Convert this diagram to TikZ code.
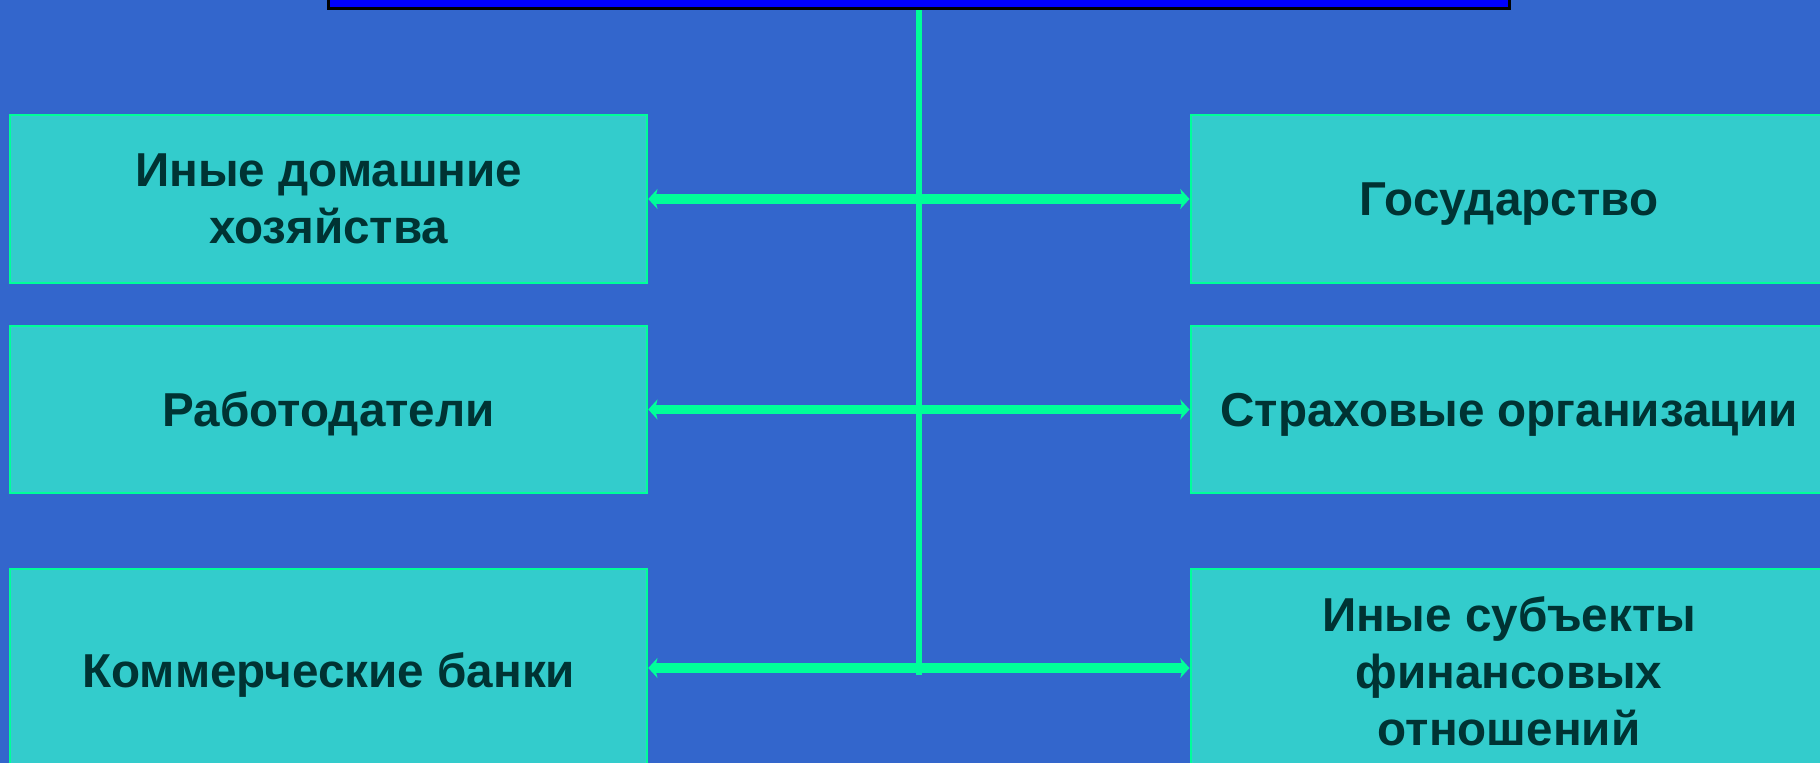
\documentclass[tikz,border=0pt]{standalone}
\usepackage{fontspec}
\setmainfont{Liberation Sans}
\usetikzlibrary{arrows.meta}
\definecolor{bg}{HTML}{3366CC}
\definecolor{boxfill}{HTML}{33CCCC}
\definecolor{lime}{HTML}{00FF99}
\definecolor{ink}{HTML}{003333}
\definecolor{headblue}{HTML}{0000FF}

\begin{document}
\begin{tikzpicture}[x=0.5pt,y=-0.5pt,
  actor/.style={draw=lime, line width=1pt, fill=boxfill, minimum width=318.5pt,
    inner sep=0pt, align=center, text=ink,
    font=\bfseries\fontsize{23.8pt}{28.5pt}\selectfont},
  oneline/.style={text height=17pt, text depth=0pt},
  topbox/.style={draw=black, line width=1.5pt, fill=headblue,
    minimum width=590.5pt, minimum height=40pt, inner sep=0pt},
  stem/.style={draw=lime, line width=3pt},
  tipshape/.tip={Stealth[length=4.6pt,width=10pt,inset=1.2pt]},
  link/.style={draw=lime, line width=4.7pt, tipshape-tipshape}]

% canvas
\fill[bg] (0,0) rectangle (1820,763);
\useasboundingbox (0,0) rectangle (1820,763);

% heading box (runs off the top edge)
\node[topbox] (top) at (918.5,-31) {};

% participants
\node[actor, minimum height=84pt]            (l1) at (328.75,199)   {Иные домашние\\хозяйства};
\node[actor, oneline, minimum height=83.5pt] (l2) at (328.75,409.5) {Работодатели};
\node[actor, oneline, minimum height=102pt]  (l3) at (328.75,671)   {Коммерческие банки};
\node[actor, oneline, minimum height=84pt]   (r1) at (1509,199)     {Государство};
\node[actor, oneline, minimum height=83.5pt] (r2) at (1509,409.5)   {Страховые организации};
\node[actor, minimum height=102pt]           (r3) at (1509,671)     {Иные субъекты\\финансовых\\отношений};

% central trunk
\coordinate (trunkend) at (918.5,675);
\draw[stem] (top.south) -- (trunkend);

% two-way links
\draw[link] (l1.east) -- (r1.west);
\draw[link] (l2.east) -- (r2.west);
\draw[link] ([yshift=1.5pt]l3.east) -- ([yshift=1.5pt]r3.west);
\end{tikzpicture}
\end{document}
